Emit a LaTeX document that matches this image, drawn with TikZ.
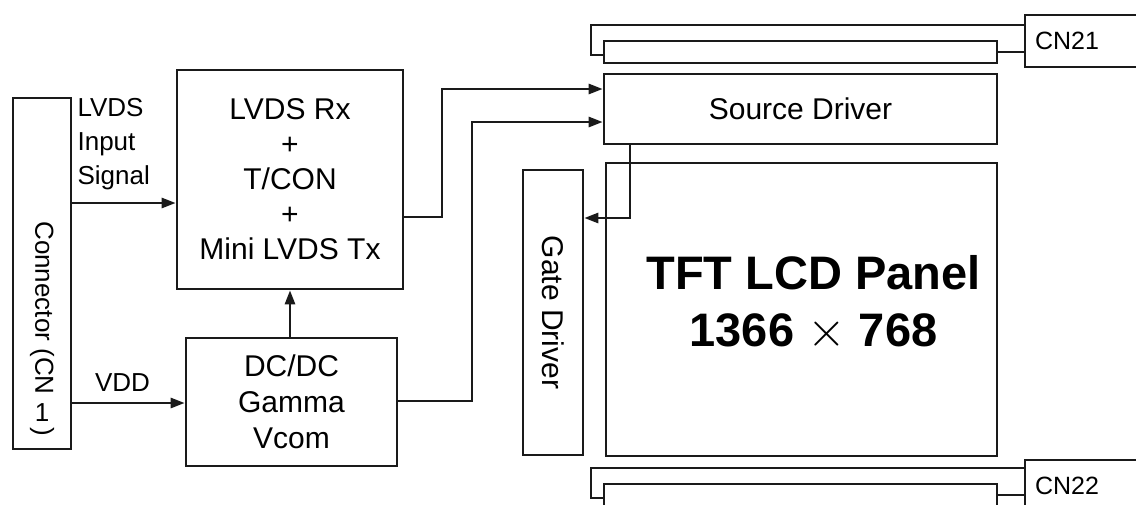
\documentclass[tikz,border=0pt]{standalone}
\usepackage{fontspec}
\setmainfont{Liberation Sans}
\usepackage{tikz}
\usetikzlibrary{positioning, arrows.meta, calc}
\definecolor{blkline}{HTML}{1a1a1a}

\begin{document}
\begin{tikzpicture}[x=0.5pt, y=-0.5pt, line width=1.3pt, draw=blkline,
 blk/.style={draw=blkline, line width=1.3pt, inner sep=0pt, align=center, font=\fontsize{15}{17.5}\selectfont},
 lbl/.style={inner sep=0pt, align=left, font=\fontsize{13}{17}\selectfont},
 cnlbl/.style={inner sep=0pt, font=\fontsize{12.5}{15}\selectfont},
 arr/.style={-{Triangle[length=7pt,width=5pt]}, line width=1.3pt}]
\useasboundingbox (0,0) rectangle (1136,504);
\clip (0,0) rectangle (1136,504);

\node[blk, minimum width=29pt, minimum height=175.5pt] (cn1) at (42,273.5) {};
\node[lbl, rotate=-90, anchor=west] (cn1txt) at (42,220) {Connector (CN};
\node[lbl, anchor=north] (cn1num) at ($(cn1txt.east)+(0,-3pt)$) {1};
\node[lbl, rotate=-90, anchor=west] (cn1par) at ($(cn1num.south)+(0,-2pt)$) {)};
\node[blk, minimum width=113pt, minimum height=109.5pt] (rx) at (290,179.5)
  {LVDS Rx\\+\\T/CON\\+\\Mini LVDS Tx};
\node[blk, minimum width=105.5pt, minimum height=64pt, font=\fontsize{15}{18}\selectfont] (dc) at (291.5,402)
  {DC/DC\\Gamma\\Vcom};
\node[blk, minimum width=196.5pt, minimum height=35pt] (src) at (800.5,109) {Source Driver};
\node[blk, minimum width=196.5pt, minimum height=11pt] (strip1) at (800.5,52) {};
\node[blk, minimum width=57.5pt, minimum height=26pt] (cn21) at (1082.5,41) {};
\node[cnlbl, anchor=west] (cn21txt) at ($(cn21.west)+(5pt,0)$) {CN21};
\node[blk, minimum width=30pt, minimum height=142.5pt] (gate) at (553,312.5)
  {\rotatebox{-90}{Gate Driver}};
\node[blk, minimum width=195.5pt, minimum height=146.5pt] (panel) at (801.5,309.5) {};
\node[font=\fontsize{23.5}{28.5}\selectfont\bfseries, align=center, xshift=6pt, yshift=3pt] (title) at (panel.center)
  {TFT LCD Panel\\1366 $\times$ 768};
\node[blk, minimum width=196.5pt, minimum height=18pt] (strip2) at (800.5,502) {};
\node[blk, minimum width=57.5pt, minimum height=26pt] (cn22) at (1082.5,486) {};
\node[cnlbl, anchor=west] (cn22txt) at ($(cn22.west)+(5pt,0)$) {CN22};

\node[lbl, anchor=north west, xshift=2pt] (lvdslbl) at (cn1.north east) {LVDS\\Input\\Signal};

% signal paths
\draw[arr] (cn1.east |- 0,203) -- (rx.west |- 0,203);
\draw[arr] (cn1.east |- 0,403) -- node[lbl, above=5pt, xshift=-3pt] {VDD} (dc.west |- 0,403);
\draw[arr] (dc.north -| rx.south) -- (rx.south);
\draw[arr] (rx.east |- 0,217) -| (442,150) |- (src.west |- 0,89);
\draw[arr] (dc.east |- 0,401) -| (472,250) |- (src.west |- 0,122);
\draw[arr] (src.south -| 630,0) |- (gate.east |- 0,218);

% flex cables
\draw (cn21.west |- 0,25) -| (591,40) |- (strip1.west |- 0,55);
\draw (strip1.east) -- (cn21.west |- strip1.east);
\draw (cn22.west |- 0,468) -| (591,480) |- (strip2.west |- 0,498);
\draw (strip2.east |- 0,495) -- (cn22.west |- 0,495);

\end{tikzpicture}
\end{document}
